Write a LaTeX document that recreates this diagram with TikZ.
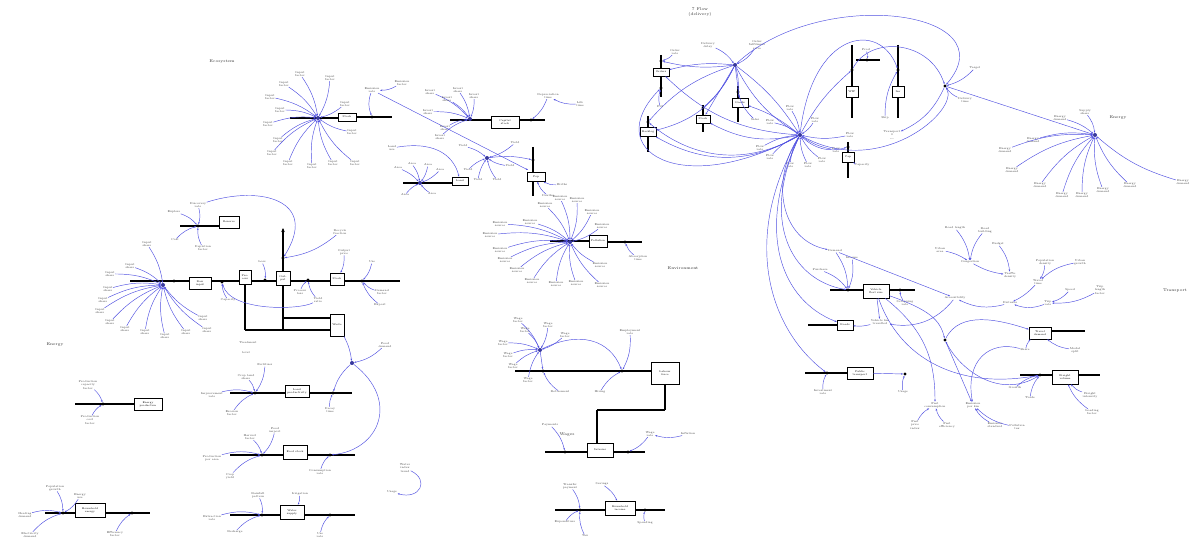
\documentclass[tikz,border=0pt]{standalone}
\usetikzlibrary{calc,arrows.meta}
\definecolor{lk}{RGB}{80,80,225}
\tikzset{
 stockbox/.style={draw,line width=0.6pt,fill=white,inner sep=0.5pt,font=\fontsize{2.6}{3}\selectfont,align=center},
 valve/.style={circle,fill=black,inner sep=0pt,minimum size=3.2pt},
 hubv/.style={circle,fill=lk!70!black,inner sep=0pt,minimum size=4pt},
 pipe/.style={line width=1.5pt,black},
 conn/.style={draw=lk,line width=0.45pt,-{Stealth[length=2.2pt,width=1.6pt]}},
 lab/.style={font=\fontsize{2.8}{3.1}\selectfont,align=center,inner sep=0.4pt,text=black!75},
 ttl/.style={font=\fontsize{4}{4.6}\selectfont,align=center,text=black!80},
}
\newcommand\pipeh[4]{\coordinate (#1a) at (#2,#4); \coordinate (#1b) at (#3,#4); \draw[pipe] (#1a) -- (#1b);}
\newcommand\pipev[4]{\coordinate (#1a) at (#4,#2); \coordinate (#1b) at (#4,#3); \draw[pipe] (#1a) -- (#1b);}
\newcommand\stk[6]{\node[stockbox,minimum width=#4pt,minimum height=#5pt] (#1) at (#2,#3) {#6};}
\newcommand\vlv[3]{\node[valve] (#1) at (#2,#3) {};}
\newcommand\lbl[4]{\node[lab] (#1) at (#2,#3) {#4};}
\newcommand\lc[5]{\node[lab] (#1) at (#2,#3) {#4}; \draw[conn] (#1) to[bend left=15] (#5);}
\newcommand\rays[3]{\foreach \xx/\yy [count=\k] in {#2}{\node[lab] (#1r\k) at (\xx,\yy) {#3}; \draw[conn] (#1r\k) to[bend left=12] (#1);}}
\begin{document}
\begin{tikzpicture}[x=1pt,y=-1pt]
\useasboundingbox[fill=white] (0,0) rectangle (1195,545);

% ================= Region A (top left-centre)
\node[ttl] (tA) at (222,62) {Ecosystem};
\pipeh{pA1}{290}{338}{118}
\node[hubv] (hA) at (318,118) {};
\stk{sA}{347}{117}{18}{8}{Stock}
\pipeh{pA2}{356}{392}{117}
\vlv{vA2}{372}{117}
\rays{hA}{300/74,284/84,270/97,280/110,268/124,278/140,272/153,288/163,312/166,333/163,355/163,352/132,345/104,330/78}{Input\\factor}
\lbl{lA1}{372}{90}{Emission\\rate}
\draw[conn] (lA1) to[bend right=20] (vA2);
\lc{lA2}{402}{83}{Emission\\factor}{lA1}
\draw[conn] (lA1) -- (528,170);
% sub hub B
\pipeh{pB1}{403}{452}{183}
\node[hubv] (hB) at (420,183) {};
\stk{sB}{460}{181}{16}{8}{Land}
\rays{hB}{398/168,412/164,428/165,440/170,405/195,432/194}{Area}
\lbl{lB1}{392}{148}{Land\\use}
\draw[conn] (lB1) .. controls (440,140) and (455,160) .. (sB);
% hub D
\pipeh{pD1}{450}{545}{120}
\node[hubv] (hD) at (470,119) {};
\stk{sD}{505}{122}{28}{12}{Capital\\stock}
\vlv{vD2}{531}{120}
\rays{hD}{430/92,447/99,458/90,474/96,428/112,445/128,440/137}{Invest\\share}
\lc{lD1}{548}{96}{Depreciation\\time}{vD2}
\lc{lD2}{580}{104}{Life\\time}{lD1}
\pipev{pE1}{147}{196}{533}
\stk{sE}{536}{177}{18}{9}{Pop}
\vlv{vE1}{533}{160}
\lc{lE1}{562}{185}{Births}{sE}
\lc{lE2}{548}{196}{Deaths}{sE}
\node[hubv] (hF) at (487,158) {};
\rays{hF}{463/146,468/170,478/180,497/180,510/166,515/143}{Yield}
\draw[conn] (hF) to[bend left=10] (vE1);

% ================= Region B (top right)
\node[ttl] (tB) at (700,12) {7 Flow\\(delivery)};
\pipev{pG1}{55}{97}{661}
\stk{sG1}{661}{72}{16}{8}{Orders}
\vlv{vG1}{661}{61}
\vlv{vG1b}{661}{88}
\pipev{pG2}{116}{152}{648}
\stk{sG2}{648}{132}{16}{9}{Backlog}
\vlv{vG2}{648}{122}
\pipev{pG3}{105}{132}{703}
\stk{sG3}{703}{119}{14}{8}{Stock}
\vlv{vG3}{703}{108}
\pipev{pG4}{86}{122}{738}
\stk{sG4}{740}{103}{16}{9}{Goods}
\vlv{vG4}{738}{92}
\pipev{pG5}{45}{118}{852}
\stk{sG5}{852}{92}{12}{11}{WIP}
\vlv{vG5}{852}{70}
\pipev{pG6}{45}{118}{898}
\stk{sG6}{898}{92}{12}{11}{Inv}
\vlv{vG6}{898}{70}
\pipeh{pG8}{856}{880}{60}
\vlv{vG8}{867}{60}
\pipev{pG7}{142}{178}{848}
\stk{sG7}{848}{157}{12}{10}{Cap}
\vlv{vG7}{848}{147}
\node[hubv] (hG) at (735,65) {};
\node[hubv] (hH) at (800,135) {};
\node[valve] (hT) at (945,86) {};
\lc{lG1}{708}{45}{Delivery\\delay}{hG}
\lc{lG2}{757}{45}{Order\\fulfilment\\ratio}{hG}
\draw[conn] (hG) to[bend right=10] (sG1);
\draw[conn] (hG) to[bend left=10] (vG1);
\draw[conn] (hG) to[bend left=25] (sG2);
\draw[conn] (hG) to[bend right=15] (vG2);
\draw[conn] (hG) to (sG3);
\draw[conn] (hG) to[bend left=10] (vG3);
\draw[conn] (hG) to (sG4);
\draw[conn] (hG) to[bend left=10] (vG4);
\draw[conn] (hG) to[bend left=10] (hH);
\draw[conn] (hG) to[bend right=15] (hH);
\rays{hH}{760/148,770/157,790/165,808/165,822/160,836/150,770/122,790/108,815/120,850/135}{Flow\\rate}
\draw[conn] (hH) to[bend left=30] (sG2);
\draw[conn] (hH) to[bend left=35] (vG2);
\draw[conn] (hH) to[bend left=20] (sG3);
\draw[conn] (hH) to[bend right=10] (sG4);
\draw[conn] (hH) to[bend left=20] (sG1);
\draw[conn] (hH) .. controls (680,200) and (600,150) .. (vG1b);
\draw[conn] (hH) to[bend right=30] (vG7);
\draw[conn] (hH) to[bend left=10] (vG5);
\draw[conn] (hH) .. controls (812,30) and (880,20) .. (vG6);
\draw[conn] (hH) .. controls (880,180) and (960,110) .. (hT);
\draw[conn] (hG) .. controls (820,-15) and (1010,10) .. (hT);
\draw[conn] (vG5) .. controls (870,35) and (930,40) .. (hT);
\lc{lT1}{965}{100}{Delivery\\time}{hT}
\lc{lT2}{975}{68}{Target}{hT}
\lbl{lT3}{892}{135}{Transport\\0\\{-}{-}{-}}
\draw[conn] (hT) to[bend left=20] (lT3);
\lc{lG5}{866}{50}{Prod}{vG8}
\lc{lG6}{885}{118}{Ship}{vG6}
\lc{lG7}{862}{165}{Capacity}{sG7}
\lc{lG8}{675}{52}{Order\\rate}{vG1}
\lc{lG9}{660}{107}{Fill}{vG1b}
\lc{lG10}{755}{120}{Sales}{vG4}

% ================= Region C (right)
\node[ttl] (tC) at (1118,118) {Energy};
\node[hubv] (hI) at (1095,135) {};
\rays{hI}{1060/118,1033/140,1005/150,1012/170,1040/185,1062/195,1082/195,1103/190,1130/185,1183/182}{Energy\\demand}
\draw[conn] (hT) -- (hI);
\lc{lI1}{1085}{112}{Supply\\share}{hI}

% ================= Region D (centre left)
\pipeh{pD0}{130}{400}{281}
\pipev{pDv}{232}{330}{283}
\draw[pipe,-{Stealth[length=4pt,width=3.5pt]}] (283,250) -- (283,228);
\pipev{pDv2}{283}{330}{245}
\pipeh{pDh1}{245}{330}{330}
\pipeh{pDh2}{283}{330}{318}
\node[hubv] (hJ) at (163,285) {};
\vlv{vJ1}{174}{281}
\stk{sD1}{200}{283}{22}{12}{Raw\\input}
\vlv{vJ2}{222}{282}
\stk{sD2}{245}{277}{12}{14}{Pro-\\cess}
\vlv{vJ3}{265}{280}
\stk{sD3}{283}{278}{14}{14}{Out-\\put}
\vlv{vJ4}{308}{280}
\stk{sD4}{337}{279}{14}{12}{Stock}
\vlv{vJ5}{362}{281}
\vlv{vJv}{283}{258}
\stk{sD5}{337}{325}{14}{22}{Waste}
\rays{hJ}{147/244,130/266,110/274,108/289,103/300,100/311,110/322,125/329,145/332,165/336,186/332,207/330,203/318}{Input\\share}
\pipeh{pDt}{180}{219}{226}
\vlv{vDt}{198}{226}
\stk{sD6}{229}{222}{20}{12}{Reserve}
\lc{lD6a}{198}{205}{Discovery\\rate}{vDt}
\lc{lD6b}{174}{212}{Explore}{vDt}
\lc{lD6c}{175}{240}{Cost}{vDt}
\lc{lD6d}{203}{248}{Depletion\\factor}{vDt}
\draw[conn] (lD6a) .. controls (260,185) and (320,200) .. (vJv);
\lc{lD7}{340}{232}{Recycle\\fraction}{vJv}
\lc{lD8}{262}{262}{Loss}{vJ3}
\lc{lD9}{228}{300}{Capacity}{vJ2}
\lc{lD10}{300}{292}{Process\\loss}{vJ4}
\lc{lD11}{318}{300}{Yield\\ratio}{vJ4}
\lc{lD12}{344}{252}{Output\\price}{sD4}
\lc{lD13}{372}{262}{Use}{vJ5}
\lc{lD14}{382}{292}{Demand\\factor}{vJ5}
\lc{lD15}{380}{305}{Export}{vJ5}
\draw[conn] (lD11) .. controls (300,310) and (230,312) .. (vJ2);
\lbl{lD16}{248}{343}{Treatment}
\lbl{lD17}{246}{353}{level}

% ================= Region E (bottom left)
\node[ttl] (tE) at (55,345) {Energy};
\pipeh{pE1b}{75}{134}{404}
\vlv{vE1a}{103}{404}
\stk{sE1}{148}{404}{28}{12}{Energy\\production}
\lc{lE1a}{88}{385}{Production\\capacity\\factor}{vE1a}
\lc{lE1b}{90}{420}{Production\\cost\\factor}{vE1a}
\pipeh{pE2}{230}{352}{393}
\vlv{vE2a}{255}{393}
\vlv{vE2b}{333}{393}
\stk{sE2}{297}{391}{24}{12}{Land\\productivity}
\lc{lE2a}{265}{365}{Fertiliser}{vE2a}
\lc{lE2b}{246}{377}{Crop land\\share}{vE2a}
\lc{lE2c}{212}{395}{Improvement\\rate}{vE2a}
\lc{lE2d}{232}{413}{Erosion\\factor}{vE2a}
\lc{lE2e}{330}{410}{Decay\\time}{vE2b}
\pipeh{pE3}{230}{355}{455}
\vlv{vE3a}{262}{455}
\vlv{vE3b}{330}{455}
\stk{sE3}{295}{452}{24}{14}{Food stock}
\lc{lE3a}{275}{430}{Food\\import}{vE3a}
\lc{lE3b}{250}{437}{Harvest\\factor}{vE3a}
\lc{lE3c}{212}{458}{Production\\per area}{vE3a}
\lc{lE3d}{230}{476}{Crop\\yield}{vE3a}
\lc{lE3e}{320}{472}{Consumption\\rate}{vE3b}
\pipeh{pE4}{230}{355}{515}
\vlv{vE4a}{262}{515}
\vlv{vE4b}{330}{515}
\stk{sE4}{292}{512}{24}{14}{Water\\supply}
\lc{lE4a}{258}{495}{Rainfall\\pattern}{vE4a}
\lc{lE4b}{300}{494}{Irrigation}{sE4}
\lc{lE4c}{212}{518}{Extraction\\rate}{vE4a}
\lc{lE4d}{235}{532}{Recharge}{vE4a}
\lc{lE4e}{320}{535}{Use\\rate}{vE4b}
\pipeh{pE5}{45}{150}{513}
\vlv{vE5a}{63}{513}
\vlv{vE5b}{132}{513}
\stk{sE5}{90}{510}{30}{14}{Household\\energy}
\lc{lE5a}{55}{488}{Population\\growth}{vE5a}
\lc{lE5b}{80}{496}{Energy\\use}{vE5a}
\lc{lE5c}{25}{515}{Heating\\demand}{vE5a}
\lc{lE5d}{30}{535}{Electricity\\demand}{vE5a}
\lc{lE5e}{115}{534}{Efficiency\\factor}{vE5b}
\node[hubv] (hE) at (352,363) {};
\draw[conn] (sD5) to[bend left=10] (hE);
\lc{lE6}{385}{345}{Food\\demand}{hE}
\draw[conn] (hE) to[bend right=15] (vE2b);
\draw[conn] (hE) .. controls (400,400) and (380,450) .. (vE3b);
\lbl{lE7}{405}{468}{Water\\index\\trend}
\lbl{lE8}{392}{492}{Usage}
\draw[conn] (lE7) .. controls (430,480) and (420,500) .. (lE8);

% ================= Region F (centre)
\node[ttl] (tF) at (683,268) {Environment};
\pipeh{pF1}{550}{590}{241}
\node[hubv] (hK) at (570,242) {};
\stk{sK}{598}{241}{18}{12}{Pollution}
\pipeh{pF2}{607}{642}{242}
\vlv{vK2}{625}{242}
\rays{hK}{545/205,560/198,577/200,592/212,602/226,530/222,500/224,490/235,500/250,505/260,517/270,532/281,556/284,576/283,600/265,602/285}{Emission\\source}
\lc{lK1}{638}{258}{Absorption\\time}{vK2}

% ================= Region G (centre bottom)
\node[ttl] (tG) at (567,435) {Wages};
\pipeh{pL1}{515}{651}{371}
\node[hubv] (hL) at (540,350) {};
\vlv{vL1}{543}{371}
\vlv{vL2}{622}{371}
\stk{sL}{665}{373}{28}{22}{Labour\\force}
\rays{hL}{518/320,525/330,503/343,508/355,513/366,528/380,548/325,565/335}{Wage\\factor}
\draw[conn] (hL) to (vL1);
\lc{lL1}{630}{332}{Employment\\rate}{vL2}
\lc{lL2}{600}{392}{Hiring}{vL2}
\lc{lL3}{560}{392}{Retirement}{vL1}
\draw[conn] (hL) .. controls (580,330) and (610,340) .. (vL2);
\pipev{pLv1}{384}{410}{665}
\pipeh{pLh}{597}{665}{410}
\pipev{pLv2}{410}{445}{597}
\pipeh{pL2}{545}{645}{452}
\vlv{vL3}{565}{452}
\vlv{vL4}{628}{452}
\stk{sL2}{600}{450}{26}{14}{Salaries}
\lc{lL4}{550}{425}{Payments}{vL3}
\lc{lL5}{650}{434}{Wage\\rate}{vL4}
\lc{lL6}{688}{434}{Inflation}{lL5}
\pipeh{pL3}{555}{665}{510}
\vlv{vL5}{580}{510}
\vlv{vL6}{645}{510}
\stk{sL3}{620}{508}{30}{14}{Household\\income}
\lc{lL7}{570}{486}{Transfer\\payment}{vL5}
\lc{lL8}{602}{484}{Savings}{sL3}
\lc{lL9}{565}{522}{Expenditure}{vL5}
\lc{lL10}{585}{536}{Tax}{vL5}
\lc{lL11}{645}{523}{Spending}{vL6}

% ================= Region H (right bottom)
\node[ttl] (tH) at (1175,291) {Transport};
\pipeh{pM1}{830}{915}{290}
\vlv{vM1}{848}{290}
\vlv{vM1b}{900}{290}
\stk{sM1}{876}{291}{26}{14}{Vehicle\\fleet size}
\lc{lM1a}{820}{270}{Purchase}{vM1}
\lc{lM1b}{835}{251}{Demand}{vM1}
\lc{lM1c}{852}{258}{Income}{vM1}
\lc{lM1d}{905}{303}{Scrapping\\rate}{vM1b}
\lbl{lM1e}{880}{322}{Vehicle km\\travelled}
\draw[conn] (sM1) -- (lM1e);
\pipeh{pM2}{808}{837}{325}
\stk{sM2}{845}{325}{16}{10}{Roads}
\draw[conn] (lM1e) to[bend left=10] (sM2);
\pipeh{pM3}{805}{847}{373}
\vlv{vM3}{827}{373}
\stk{sM3}{860}{373}{26}{12}{Public\\transport}
\lc{lM3a}{823}{392}{Investment\\rate}{vM3}
\node[valve] (hN) at (905,374) {};
\draw[conn] (sM3) -- (hN);
\lc{lN1}{903}{392}{Usage}{hN}
\node[valve] (hM) at (945,340) {};
\draw[conn] (sM1) .. controls (930,310) and (940,320) .. (hM);
\lbl{lM4}{935}{405}{Fuel\\consumption}
\lbl{lM5}{973}{405}{Emission\\per km}
\draw[conn] (sM1) .. controls (925,330) and (935,360) .. (lM4);
\draw[conn] (hM) -- (lM5);
\lc{lM6}{915}{425}{Fuel\\price\\index}{lM4}
\lc{lM7}{947}{425}{Fuel\\efficiency}{lM4}
\lc{lM8}{995}{425}{Emission\\standard}{lM5}
\lc{lM9}{1017}{427}{Pollution\\tax}{lM5}
\pipeh{pM4}{1051}{1085}{331}
\stk{sM4}{1040}{333}{22}{12}{Travel\\demand}
\draw[conn] (hM) .. controls (960,310) and (1000,320) .. (sM4);
\lc{lM4a}{1075}{350}{Modal\\split}{sM4}
\lc{lM4b}{1025}{350}{Share}{sM4}
\pipeh{pM5}{1020}{1100}{375}
\vlv{vM5}{1040}{375}
\stk{sM5}{1065}{377}{26}{14}{Freight\\volume}
\draw[conn] (vM5) .. controls (1000,400) and (960,370) .. (hM);
\lc{lM5a}{1015}{388}{Growth}{vM5}
\lc{lM5b}{1030}{398}{Trade}{vM5}
\lc{lM5c}{1090}{395}{Freight\\intensity}{sM5}
\lc{lM5d}{1092}{412}{Loading\\factor}{sM5}
\draw[conn] (lM4b) .. controls (990,340) and (965,360) .. (lM5);
% upper cluster of Transport
\lbl{lQ1}{955}{228}{Road length}
\lbl{lQ2}{985}{230}{Road\\building}
\lbl{lQ3}{940}{250}{Urban\\area}
\lbl{lQ4}{970}{262}{Congestion}
\lbl{lQ5}{998}{244}{Budget}
\lbl{lQ6}{1010}{275}{Traffic\\density}
\lbl{lQ7}{1045}{262}{Population\\density}
\lbl{lQ8}{1080}{262}{Urban\\growth}
\lbl{lQ9}{1038}{282}{Travel\\time}
\lbl{lQ10}{1070}{290}{Speed}
\lbl{lQ11}{1100}{290}{Trip\\length\\factor}
\lbl{lQ12}{1048}{303}{Trip\\rate}
\lbl{lQ13}{1010}{303}{Distance}
\lbl{lQ14}{955}{298}{Accessibility}
\draw[conn] (lQ1) to[bend left=15] (lQ4);
\draw[conn] (lQ2) to[bend right=15] (lQ4);
\draw[conn] (lQ3) to[bend left=10] (lQ4);
\draw[conn] (lQ5) to[bend left=15] (lQ6);
\draw[conn] (lQ4) to[bend right=10] (lQ6);
\draw[conn] (lQ7) to[bend left=15] (lQ9);
\draw[conn] (lQ8) to[bend right=15] (lQ9);
\draw[conn] (lQ10) to[bend left=15] (lQ12);
\draw[conn] (lQ11) to[bend left=15] (lQ12);
\draw[conn] (lQ12) to[bend left=20] (lQ13);
\draw[conn] (lQ9) to[bend left=10] (lQ13);
\draw[conn] (lQ13) to[bend left=20] (lQ14);
\draw[conn] (lM1b) -- (lQ14);
\draw[conn] (lQ14) to[bend left=30] (lM1e);
% long links from hub H
\draw[conn] (hH) .. controls (760,220) and (790,280) .. (vM1);
\draw[conn] (hH) .. controls (740,240) and (770,330) .. (vM3);
\draw[conn] (hH) .. controls (755,230) and (780,300) .. (sM2);
\draw[conn] (hH) .. controls (770,180) and (780,240) .. (lM1b);
\draw[conn] (sM1) .. controls (900,360) and (960,390) .. (vM5);
\end{tikzpicture}
\end{document}
